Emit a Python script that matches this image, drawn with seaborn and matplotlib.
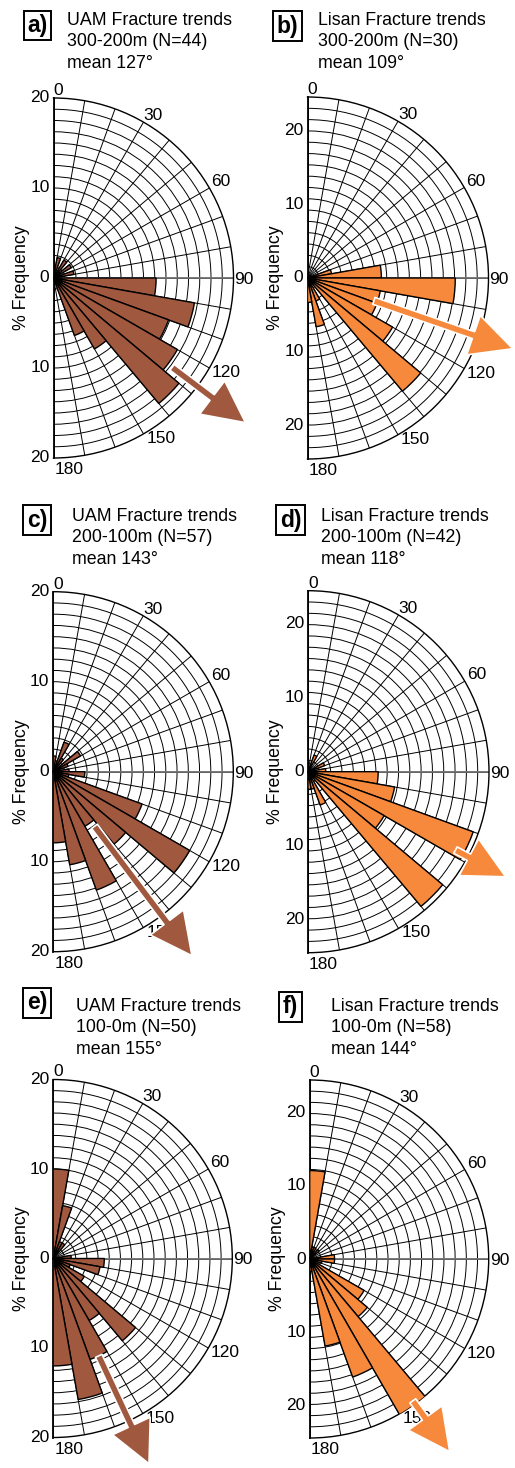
import numpy as np
import matplotlib
matplotlib.use("Agg")
import matplotlib.pyplot as plt
import matplotlib.patches as mpatches
import matplotlib.transforms as mtransforms
import seaborn as sns

# ---------------- data ----------------
bin_starts = list(range(0, 180, 10))          # 10-degree bins, 0..170
angle_ticks = [0, 30, 60, 90, 120, 150, 180]

# % frequency per bin (0-10, 10-20, ..., 170-180)
uam_300_200 = [0, 2.3, 0, 2.3, 0, 2.3, 0, 2.3, 0, 11.4, 15.9, 13.6, 15.9, 18.2, 9.1, 6.8, 0, 0]
lisan_300_200 = [0, 0, 0, 0, 0, 0, 0, 3.3, 10.0, 20.0, 10.0, 10.0, 13.3, 20.0, 0, 3.3, 6.7, 3.3]
uam_200_100 = [1.75, 0, 3.5, 1.75, 0, 3.5, 1.75, 0, 1.75, 3.5, 1.75, 10.5, 17.5, 10.5, 7.0, 14.0, 10.5, 7.9]
lisan_200_100 = [0, 0, 2.4, 0, 0, 0, 2.4, 0, 2.4, 9.5, 11.9, 23.8, 11.9, 23.8, 0, 4.8, 2.4, 2.4]
uam_100_0 = [10.0, 6.0, 2.0, 2.0, 0, 0, 0, 0, 2.0, 5.7, 5.3, 2.0, 4.0, 12.0, 8.0, 12.0, 16.0, 12.0]
lisan_100_0 = [12.1, 1.7, 1.7, 0, 1.7, 0, 0, 0, 3.4, 3.4, 1.7, 0, 8.6, 10.3, 25.2, 17.2, 12.1, 1.7]

series = [uam_300_200, lisan_300_200, uam_200_100, lisan_200_100, uam_100_0, lisan_100_0]
letters = ["a)", "b)", "c)", "d)", "e)", "f)"]
title_line1 = ["UAM Fracture trends", "Lisan Fracture trends"] * 3
title_line2 = ["300-200m (N=44)", "300-200m (N=30)", "200-100m (N=57)",
               "200-100m (N=42)", "100-0m (N=50)", "100-0m (N=58)"]
mean_dirs = [127, 109, 143, 118, 155, 144]
rmax = [20, 24.5, 20, 24.5, 20, 24.5]
rtick_labels = [[20, 10], [20, 10], [20, 10], [20, 10], [20, 10], [20, 10]]
arrow_r0 = [16.5, 9.5, 7.6, 22.6, 12.0, 24.0]
arrow_r1 = [26.7, 29.4, 25.6, 30.3, 25.3, 32.6]

# ---------------- style ----------------
sns.set_style("white")
plt.rcParams["font.family"] = ["Liberation Sans", "DejaVu Sans"]
plt.rcParams["text.color"] = "black"

BROWN = "#A0583F"
ORANGE = "#F7893C"
colors = [BROWN, ORANGE] * 3

W, H = 515, 1468
fig = plt.figure(figsize=(W / 100, H / 100), dpi=100)
fig.patch.set_facecolor("white")

# layout (pixels): center x, center y, radius
centers = [(53.5, 278, 180), (307.5, 278, 181),
           (53.3, 771.7, 180), (308, 771.7, 181),
           (53.3, 1258.5, 179), (309.7, 1259, 179)]
box_centers = [(37.5, 25.5), (287.5, 26), (37, 520), (290.5, 520), (37, 1003), (290.5, 1007)]
title_xy = [(67, 12), (318, 12), (72.5, 508), (321, 508), (76, 998), (331, 998)]

N_RINGS = 16
LINE_DY = 21.5


def fx(x):
    return x / W


def fy(y):
    return 1 - y / H


for i in range(6):
    cx, cy, R = centers[i]
    S = 2 * R
    ax = fig.add_axes([fx(cx - R / 2), fy(cy + R), S / W, S / H], projection="polar")
    ax.set_theta_zero_location("N")
    ax.set_theta_direction(-1)
    ax.set_thetamin(0)
    ax.set_thetamax(180)
    ax.set_ylim(0, rmax[i])
    ax.set_facecolor("white")

    ax.set_xticks(np.deg2rad(np.arange(0, 181, 10)))
    ax.set_xticklabels([])
    ax.set_yticks(np.linspace(0, rmax[i], N_RINGS + 1)[1:-1])
    ax.set_yticklabels([])
    ax.tick_params(length=0)
    ax.grid(True, color="black", linewidth=0.7)
    ax.set_axisbelow(True)
    ax.spines["polar"].set_color("black")
    ax.spines["polar"].set_linewidth(1.0)
    for sp in ("start", "end"):
        ax.spines[sp].set_color("black")
        ax.spines[sp].set_linewidth(1.3)
    ax.spines["inner"].set_visible(False)
    # east-west reference line (drawn grey in the original)
    ax.plot([np.pi / 2, np.pi / 2], [0, rmax[i]], color="#6f6f6f", linewidth=1.3, zorder=1.5)

    ax.bar(np.deg2rad(np.array(bin_starts, dtype=float)), series[i], width=np.deg2rad(10),
           align="edge", color=colors[i], edgecolor="black", linewidth=1.0, zorder=3)

    # mean arrow
    th = np.deg2rad(mean_dirs[i])
    arr = mpatches.FancyArrowPatch(
        posA=(th, arrow_r0[i]), posB=(th, arrow_r1[i]), transform=ax.transData,
        arrowstyle=mpatches.ArrowStyle.Simple(head_length=30, head_width=30, tail_width=5.2),
        mutation_scale=1, shrinkA=0, shrinkB=0, facecolor=colors[i],
        edgecolor="white", linewidth=1.2, clip_on=False, zorder=5)
    ax.add_patch(arr)

    # radial scale labels on the diameter
    off_l = mtransforms.offset_copy(ax.transData, fig=fig, x=-4, y=0, units="dots")
    for v in rtick_labels[i]:
        ax.text(0, v, str(v), transform=off_l, ha="right", va="center", fontsize=12.5,
                color="black", clip_on=False)
        ax.text(np.pi, v, str(v), transform=off_l, ha="right", va="center", fontsize=12.5,
                color="black", clip_on=False)
    ax.text(0, 0, "0", transform=off_l, ha="right", va="center", fontsize=12.5,
            color="black", clip_on=False)

    # angle labels
    specs = {0: (0, 3, "baseline"), 30: (0, 2, "baseline"), 60: (2, 2, "baseline"),
             90: (1, 0, "center_baseline"), 120: (2, 3, "top"), 150: (3, 3, "top"), 180: (1, -4, "top")}
    for a in angle_ticks:
        dx, dy, va = specs[a]
        tr = mtransforms.offset_copy(ax.transData, fig=fig, x=dx, y=dy, units="dots")
        ax.text(np.deg2rad(a), rmax[i], str(a), transform=tr, ha="left", va=va,
                fontsize=12.5, color="black", clip_on=False)

    # y label
    fig.text(fx(cx - 32), fy(cy), "% Frequency", rotation=90, ha="center", va="center",
             fontsize=12.8, color="black")

    # panel letter box
    bx, by = box_centers[i]
    fig.text(fx(bx), fy(by), letters[i], ha="center", va="center", fontsize=16.5, fontweight="bold",
             color="black",
             bbox=dict(boxstyle="square,pad=0.15", facecolor="white", edgecolor="black", linewidth=1.4))

    # titles
    tx, ty = title_xy[i]
    lines = [title_line1[i], title_line2[i], "mean %d\u00b0" % mean_dirs[i]]
    for k, ln in enumerate(lines):
        fig.text(fx(tx), fy(ty + k * LINE_DY), ln, ha="left", va="top", fontsize=12.8, color="black")

fig.savefig("out.png", dpi=100, facecolor="white")
